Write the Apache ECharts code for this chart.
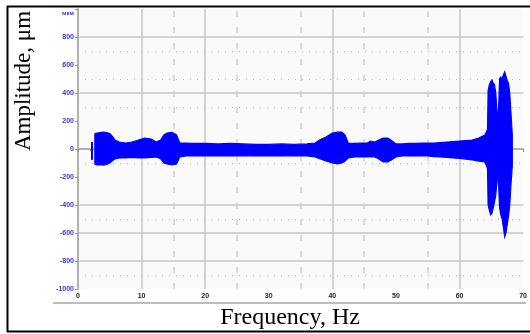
<!DOCTYPE html>
<html>
<head>
<meta charset="utf-8">
<script src="https://cdn.jsdelivr.net/npm/echarts@6/dist/echarts.min.js"></script>
<style>
  html, body { margin: 0; padding: 0; background: #fff; }
  #chart { width: 530px; height: 334px; }
</style>
</head>
<body>
<div id="chart"></div>
<script>
// envelope of the spectrum band
var freq = [2.65, 2.7, 3.0, 3.5, 4.0, 4.5, 5.0, 5.5, 5.8, 6.5, 7.5, 8.5, 9.5, 10.5, 11.5, 12.3, 13.0, 13.5, 14.0, 14.8, 15.5, 16.0, 17.0,
  18, 20, 22, 24, 26, 28, 30, 32, 34, 36, 37.3, 38, 39, 40, 40.8, 41.5, 42, 42.5, 43.5, 44.5, 45.5, 46, 46.7, 47.3, 48, 48.7, 49.2, 50,
  51, 52, 53, 54, 55, 56, 57, 58, 59, 60, 61, 62, 63, 64, 64.4,
  64.5, 64.7, 64.9, 65.1, 65.3, 65.5, 65.7, 65.85, 66.0, 66.15, 66.3, 66.5, 66.7, 66.9, 67.1, 67.3, 67.5, 67.7, 67.9, 68.1, 68.3];
var upper = [100, 110, 114, 118, 121, 118, 110, 85, 64, 50, 43, 50, 64, 78, 71, 50, 64, 100, 114, 118, 100, 43, 43,
  40, 40, 36, 40, 36, 33, 33, 36, 33, 36, 43, 64, 86, 114, 121, 121, 100, 43, 40, 43, 43, 57, 50, 64, 78, 78, 64, 36,
  36, 40, 40, 43, 43, 43, 46, 50, 53, 57, 60, 64, 78, 100, 140,
  420, 460, 480, 493, 470, 460, 400, 300, 200, 300, 500, 514, 500, 530, 550, 520, 490, 470, 400, 250, 100];
var lower = [-100, -110, -114, -112, -115, -110, -100, -80, -71, -64, -64, -60, -64, -64, -60, -57, -70, -100, -107, -114, -107, -57, -50,
  -50, -50, -50, -50, -47, -50, -50, -50, -47, -50, -57, -70, -86, -100, -107, -100, -86, -64, -57, -57, -57, -57, -57, -71, -93, -93, -80, -57,
  -50, -50, -50, -50, -50, -55, -57, -60, -64, -68, -72, -78, -86, -93, -140,
  -400, -440, -470, -460, -420, -380, -330, -250, -180, -260, -420, -470, -500, -560, -628, -600, -540, -480, -400, -250, -120];
// the short isolated stroke before the band
var strokeFreq = [2.2, 2.2];
var strokeAmp = [50, -78];

var xTicks = [0, 10, 20, 30, 40, 50, 60, 70];
var yUnit = 'мкм';
var dottedLevels = [700, 500, 300, -100, -500, -900];
var dashedFreqs = [15, 25, 35, 45, 55];

var blue = '#0000ff';
var strokeData = strokeFreq.map(function (f, i) { return [f, strokeAmp[i]]; });

var chart = echarts.init(document.getElementById('chart'), null, { renderer: 'canvas' });

var grey = '#c6c6c6';
var none = 'rgba(0,0,0,0)';

// band = polygon along the upper envelope, back along the lower one
function renderBand(params, api) {
  var pts = [];
  for (var i = 0; i < freq.length; i++) pts.push(api.coord([freq[i], upper[i]]));
  for (var j = freq.length - 1; j >= 0; j--) pts.push(api.coord([freq[j], lower[j]]));
  return {
    type: 'polygon',
    shape: { points: pts },
    style: { fill: blue, stroke: blue, lineWidth: 1.2 }
  };
}

var option = {
  backgroundColor: '#ffffff',
  animation: false,
  grid: {
    left: 78, right: 4, top: 9, bottom: 45,
    show: true, backgroundColor: '#fafafa', borderWidth: 0
  },
  xAxis: {
    type: 'value',
    min: xTicks[0], max: xTicks[xTicks.length - 1], interval: 10,
    axisLine: { lineStyle: { color: '#b0b0b0', width: 2 } },
    axisTick: { show: true, length: 3, lineStyle: { color: '#888' } },
    minorTick: { show: true, splitNumber: 5, length: 2, lineStyle: { color: '#888' } },
    axisLabel: {
      margin: 4, color: '#222', fontSize: 7, fontWeight: 'bold', fontFamily: 'Liberation Sans'
    },
    splitLine: {
      show: true,
      lineStyle: { color: [none, grey, grey, none, grey, none, grey, none], width: 1.5 }
    }
  },
  yAxis: {
    type: 'value',
    min: -1000, max: 1000, interval: 200,
    axisLine: { show: true, lineStyle: { color: '#b0b0b0', width: 2 } },
    axisTick: { show: true, length: 3, lineStyle: { color: '#999' } },
    axisLabel: {
      margin: 4, color: '#3434d4', fontSize: 7, fontWeight: 'bold', fontFamily: 'Liberation Sans',
      formatter: function (v) { return v === 1000 ? '{u|' + yUnit + '}' : String(v); },
      rich: {
        u: { color: '#3434d4', fontSize: 6, fontWeight: 'bold', fontFamily: 'Liberation Sans', padding: [8, 0, 0, 0] }
      }
    },
    splitLine: {
      show: true,
      lineStyle: { color: [none, grey, grey, grey, none, none, none, grey, none, grey, none], width: 1.5 }
    }
  },
  series: [
    {
      // reference grid marks
      type: 'line', data: [], silent: true, z: 1,
      markLine: {
        silent: true, symbol: 'none', animation: false, z: 1,
        label: { show: false },
        data: dottedLevels.map(function (v) {
          return { yAxis: v, lineStyle: { color: '#b8b8b8', type: [1, 6], width: 1 } };
        }).concat(dashedFreqs.map(function (f) {
          return { xAxis: f, lineStyle: { color: '#cfcfcf', type: [6, 10], width: 1.5 } };
        }))
      }
    },
    {
      name: 'band', type: 'custom', z: 5, silent: true,
      data: [0],
      renderItem: renderBand
    },
    {
      name: 'stroke', type: 'line', data: strokeData, z: 5,
      showSymbol: false, silent: true,
      lineStyle: { color: blue, width: 2 }
    }
  ],
  graphic: [
    { type: 'line', shape: { x1: 7, y1: 6.5, x2: 530, y2: 6.5 }, style: { stroke: '#000', lineWidth: 2 } },
    { type: 'line', shape: { x1: 7.5, y1: 6, x2: 7.5, y2: 332 }, style: { stroke: '#000', lineWidth: 2 } },
    { type: 'line', shape: { x1: 7, y1: 331.5, x2: 530, y2: 331.5 }, style: { stroke: '#000', lineWidth: 2 } },
    { type: 'line', shape: { x1: 53, y1: 303, x2: 526, y2: 303 }, style: { stroke: '#bdbdbd', lineWidth: 2 } },
    {
      type: 'text', x: 24, y: 81, rotation: Math.PI / 2,
      style: {
        text: 'Amplitude, μm', fill: '#000', font: '23px "Liberation Serif"',
        align: 'center', verticalAlign: 'middle'
      }
    },
    {
      type: 'text', x: 290, y: 318,
      style: {
        text: 'Frequency, Hz', fill: '#000', font: '24px "Liberation Serif"',
        align: 'center', verticalAlign: 'middle'
      }
    }
  ]
};

chart.setOption(option);
</script>
</body>
</html>
